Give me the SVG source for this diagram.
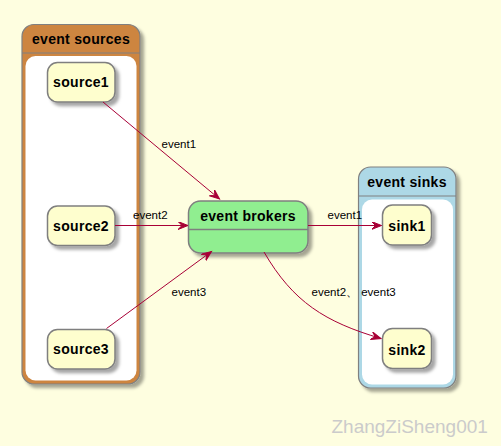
<svg xmlns="http://www.w3.org/2000/svg" width="501" height="446" viewBox="0 0 501 446">
<style>
.bg{fill:#FEFEE0}
.cont{stroke:#808080;stroke-width:1.2}
.inner{fill:#FFFFFF;stroke:none}
.node{fill:#FEFECE;stroke:#7F7F7F;stroke-width:1.5}
.ttl{font-family:"Liberation Sans",Arial,sans-serif;font-weight:bold;font-size:14px;letter-spacing:0.3px;text-anchor:middle;fill:#000}
.lbl{font-family:"Liberation Sans",Arial,sans-serif;font-size:11.5px;fill:#000}
.edge{fill:none;stroke:#A80036;stroke-width:1}
.wm{font-family:"Liberation Sans",Arial,sans-serif;font-size:19px;fill:#CBCBCB}
</style>
<defs>
<filter id="sh" x="-20%" y="-20%" width="150%" height="150%">
<feDropShadow dx="3.5" dy="3.5" stdDeviation="1.8" flood-color="#000" flood-opacity="0.35"/>
</filter>
<marker id="arr" markerUnits="userSpaceOnUse" markerWidth="12" markerHeight="10" refX="10" refY="4" orient="auto">
<path d="M0,0 L10,4 L0,8 L4,4 Z" fill="#A80036" stroke="#A80036" stroke-width="1"/>
</marker>
</defs>
<rect class="bg" x="0" y="0" width="501" height="446"/>

<g id="event-sources">
<rect class="cont" x="22" y="24.5" width="118" height="359.5" rx="12" fill="#CD853F" filter="url(#sh)"/>
<line x1="22" y1="53" x2="140" y2="53" stroke="#808080" stroke-width="1.2"/>
<rect class="inner" x="25.5" y="56" width="111" height="324.5" rx="10"/>
<text class="ttl" x="81" y="44">event sources</text>
</g>

<g id="event-sinks">
<rect class="cont" x="358.5" y="167" width="97.5" height="221" rx="12" fill="#ADD8E6" filter="url(#sh)"/>
<line x1="358.5" y1="196" x2="456" y2="196" stroke="#808080" stroke-width="1.2"/>
<rect class="inner" x="362" y="199.5" width="91" height="185" rx="10"/>
<text class="ttl" x="407" y="187">event sinks</text>
</g>

<g id="source1">
<rect class="node" x="47.5" y="62.5" width="67.5" height="39.5" rx="10" filter="url(#sh)"/>
<text class="ttl" x="81" y="87">source1</text>
</g>
<g id="source2">
<rect class="node" x="47.5" y="206" width="67.5" height="39.5" rx="10" filter="url(#sh)"/>
<text class="ttl" x="81" y="231">source2</text>
</g>
<g id="source3">
<rect class="node" x="47.5" y="329.5" width="67.5" height="39.5" rx="10" filter="url(#sh)"/>
<text class="ttl" x="81" y="354">source3</text>
</g>

<g id="event-brokers">
<rect class="node" x="188.5" y="201" width="119.5" height="52" rx="12" fill="#90EE90" style="fill:#90EE90" filter="url(#sh)"/>
<line x1="188.5" y1="229.5" x2="308" y2="229.5" stroke="#7F7F7F" stroke-width="1.5"/>
<text class="ttl" x="248" y="220.5">event brokers</text>
</g>

<g id="sink1">
<rect class="node" x="382.5" y="205" width="49" height="40" rx="10" filter="url(#sh)"/>
<text class="ttl" x="407" y="231">sink1</text>
</g>
<g id="sink2">
<rect class="node" x="382.5" y="328.5" width="49" height="40" rx="10" filter="url(#sh)"/>
<text class="ttl" x="407" y="354.5">sink2</text>
</g>

<g id="connectors">
<path class="edge" d="M103,102 L219.5,199" marker-end="url(#arr)"/>
<path class="edge" d="M115,225.5 L188,225.5" marker-end="url(#arr)"/>
<path class="edge" d="M106.5,328.5 L211.5,251.5" marker-end="url(#arr)"/>
<path class="edge" d="M308,225.5 L381.5,225.5" marker-end="url(#arr)"/>
<path class="edge" d="M264,252 C293,302 325,322 381,338.5" marker-end="url(#arr)"/>
<text class="lbl" x="161.5" y="147.5">event1</text>
<text class="lbl" x="133" y="218.5">event2</text>
<text class="lbl" x="171.5" y="295.5">event3</text>
<text class="lbl" x="327.5" y="218.5">event1</text>
<text class="lbl" x="311.5" y="295.5">event2、 event3</text>
</g>

<text class="wm" x="331.5" y="432.5">ZhangZiSheng001</text>
</svg>
